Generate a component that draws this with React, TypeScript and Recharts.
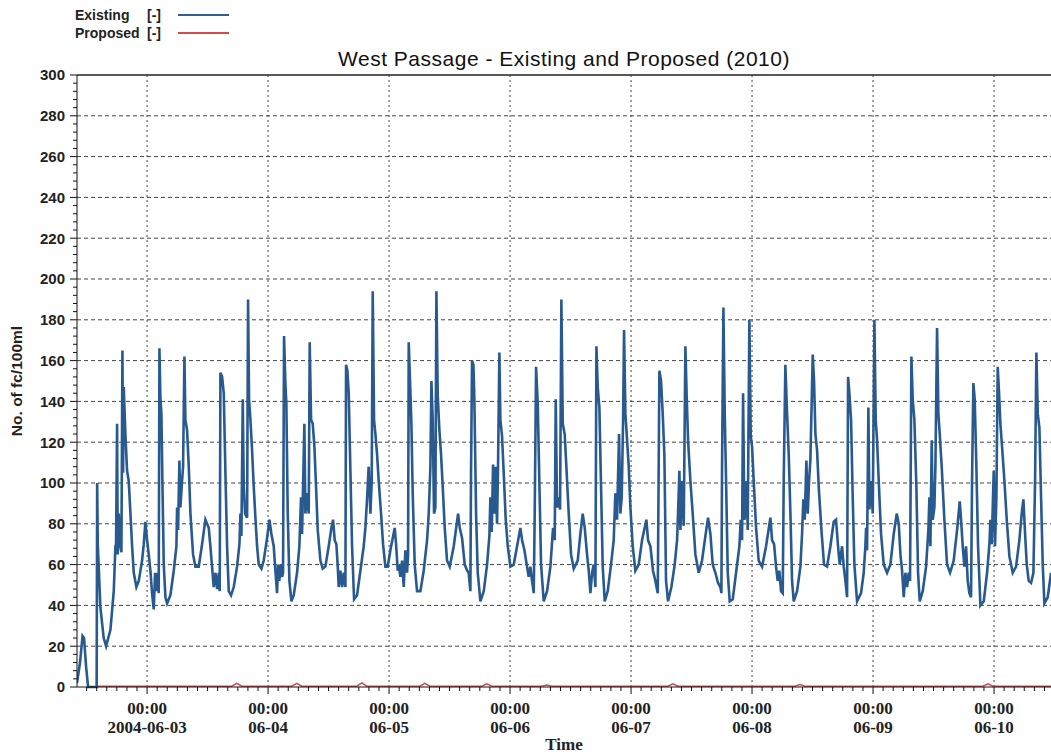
import React from 'react'
import { LineChart, Line, XAxis, YAxis, ReferenceLine } from 'recharts'

// time is in hours from 2004-06-03 00:00
const existingA = [
  [-13.9, 2], [-13.3, 12], [-12.8, 25], [-12.5, 24], [-12.1, 10], [-11.7, 0], [-10.0, 0], [-9.9, 100], [-9.78, 70],
  [-9.59, 59], [-9.26, 39], [-8.6, 24], [-8.13, 20], [-7.27, 28], [-6.61, 47], [-6.28, 69], [-6.15, 70], [-5.95, 129],
  [-5.82, 65], [-5.62, 85], [-5.29, 69], [-5.09, 66], [-4.89, 165], [-4.76, 105], [-4.63, 147], [-4.3, 124], [-3.97, 106],
  [-3.64, 101], [-3.3, 85], [-2.97, 69], [-2.64, 56], [-2.12, 49], [-1.65, 52], [-0.99, 62], [-0.66, 70], [-0.33, 81],
  [0, 72], [0.33, 65], [0.66, 57], [0.99, 46], [1.32, 38], [1.59, 56], [1.85, 47], [2.12, 56], [2.31, 46], [2.45, 166],
  [2.64, 142], [2.84, 134], [3.04, 101], [3.31, 60], [3.64, 44], [3.97, 41], [4.63, 45], [5.29, 57], [5.82, 69], [5.95, 88],
  [6.15, 77], [6.41, 111], [6.61, 88], [6.94, 101], [7.14, 108], [7.41, 162], [7.6, 131], [7.93, 126], [8.27, 108],
  [8.6, 85], [9.12, 65], [9.59, 59], [10.25, 59], [10.91, 70], [11.57, 82], [12.23, 78], [12.56, 69], [12.89, 59],
  [13.22, 49], [13.56, 56], [13.89, 48], [14.22, 56], [14.41, 47], [14.55, 154], [14.88, 152], [15.21, 144], [15.54, 105],
  [15.87, 69], [16.2, 47], [16.66, 45], [17.19, 49], [17.85, 59], [18.32, 70], [18.52, 85], [18.71, 74], [18.98, 141],
  [19.18, 98], [19.44, 85], [19.84, 83], [20.03, 190], [20.23, 141], [20.5, 131], [20.83, 116], [21.16, 98], [21.49, 83],
  [21.82, 69], [22.15, 60], [22.68, 58], [23.14, 62], [23.8, 73], [24.27, 82], [24.66, 75],
]

const existingB = [
  [25.12, 69], [25.45, 57], [25.78, 46], [25.98, 60], [26.24, 52], [26.44, 60], [26.77, 54], [26.97, 56], [27.17, 172],
  [27.43, 149], [27.63, 139], [27.9, 85], [28.23, 52], [28.63, 42], [29.09, 45], [29.75, 56], [30.21, 69], [30.54, 93],
  [30.74, 75], [30.94, 98], [31.2, 129], [31.4, 85], [31.73, 95], [32.06, 85], [32.26, 169], [32.53, 131], [32.86, 129],
  [33.19, 118], [33.52, 98], [33.85, 77], [34.38, 62], [34.84, 58], [35.37, 59], [36.03, 69], [36.56, 78], [36.89, 82],
  [37.22, 72], [37.55, 70], [37.82, 59], [38.01, 49], [38.34, 57], [38.68, 49], [39.01, 56], [39.34, 49], [39.47, 158],
  [39.73, 155], [40.0, 144], [40.33, 106], [40.66, 69], [41.06, 43], [41.65, 45], [42.31, 57], [42.97, 69], [43.3, 78],
  [43.63, 92], [43.96, 108], [44.3, 85], [44.56, 101], [44.76, 194], [45.02, 131], [45.29, 124], [45.62, 114], [45.95, 101],
  [46.41, 85], [46.81, 70], [47.27, 59], [47.73, 59], [48.26, 67], [49.12, 78], [49.39, 70], [49.72, 57], [49.92, 60],
  [50.25, 54], [50.58, 62], [50.91, 49], [51.24, 67], [51.57, 56], [51.77, 65], [51.9, 169], [52.17, 149], [52.43, 129],
  [52.69, 95], [53.09, 60], [53.55, 47], [54.21, 47], [54.87, 57], [55.54, 72], [55.87, 85], [56.2, 108], [56.4, 150],
  [56.66, 131], [56.92, 85], [57.19, 88], [57.39, 194], [57.65, 143], [57.98, 126], [58.31, 114], [58.65, 98], [59.04, 78],
  [59.5, 62], [60.03, 59], [60.83, 69], [61.69, 85], [62.02, 78], [62.48, 73], [63.01, 60],
]

const existingC = [
  [63.5, 57], [63.8, 56], [64.13, 47], [64.26, 105], [64.46, 160], [64.73, 158], [64.92, 141], [65.26, 85], [65.59, 56],
  [66.12, 42], [66.78, 47], [67.44, 60], [67.9, 74], [68.1, 93], [68.36, 76], [68.63, 109], [68.89, 85], [69.09, 108],
  [69.42, 80], [69.62, 109], [69.88, 164], [70.08, 131], [70.41, 123], [70.74, 105], [71.14, 82], [71.54, 69], [72.07, 59],
  [72.73, 60], [73.39, 69], [74.05, 78], [74.38, 72], [74.85, 67], [75.37, 59], [75.7, 54], [76.03, 59], [76.36, 52],
  [76.7, 46], [76.89, 85], [77.16, 157], [77.49, 139], [77.75, 108], [78.15, 60], [78.68, 42], [79.34, 47], [80.0, 59],
  [80.53, 78], [80.86, 72], [81.06, 141], [81.32, 88], [81.65, 93], [81.92, 87], [82.18, 190], [82.45, 129], [82.84, 124],
  [83.17, 108], [83.64, 85], [84.1, 65], [84.63, 58], [85.42, 62], [85.95, 75], [86.41, 85], [86.81, 78], [87.27, 65],
  [87.6, 57], [87.94, 46], [88.27, 56], [88.6, 60], [88.93, 49], [89.13, 167], [89.39, 147], [89.72, 137], [90.05, 98],
  [90.38, 59], [90.78, 42], [91.37, 47], [92.03, 60], [92.56, 72], [92.89, 95], [93.22, 82], [93.62, 124], [93.88, 85],
  [94.15, 93], [94.42, 131], [94.61, 175], [94.88, 134], [95.21, 121], [95.54, 108], [95.87, 88], [96.33, 69], [96.86, 57],
  [97.52, 60], [98.18, 72], [99.04, 82], [99.37, 72], [99.84, 69], [100.36, 57], [100.83, 52], [101.3, 46], [101.62, 155],
  [101.95, 150], [102.28, 134],
]

const existingD = [
  [102.61, 114], [102.94, 52], [103.34, 42], [104.0, 49], [104.66, 60], [105.13, 72], [105.32, 85], [105.59, 106],
  [105.79, 77], [106.12, 101], [106.45, 79], [106.78, 167], [107.04, 142], [107.31, 121], [107.77, 101], [108.23, 85],
  [108.76, 65], [109.42, 56], [110.08, 62], [110.75, 74], [111.27, 83], [111.74, 75], [112.2, 60], [112.73, 56],
  [113.26, 51], [113.72, 49], [113.92, 46], [114.05, 108], [114.32, 186], [114.58, 134], [114.85, 101], [115.18, 56],
  [115.57, 42], [116.17, 43], [116.83, 56], [117.49, 69], [117.75, 82], [118.02, 72], [118.22, 144], [118.48, 82],
  [118.68, 85], [118.94, 101], [119.14, 77], [119.47, 180], [119.74, 123], [120.0, 118], [120.33, 101], [120.8, 78],
  [121.32, 62], [121.99, 59], [122.78, 69], [123.64, 83], [123.97, 72], [124.37, 70], [124.76, 59], [125.09, 52],
  [125.42, 57], [125.75, 47], [126.09, 46], [126.28, 101], [126.61, 158], [126.95, 134], [127.28, 114], [127.61, 85],
  [127.94, 52], [128.27, 42], [128.93, 47], [129.59, 59], [129.92, 75], [130.18, 92], [130.45, 82], [130.78, 111],
  [131.05, 85], [131.31, 101], [131.57, 111], [132.04, 163], [132.3, 150], [132.57, 124], [132.9, 116], [133.23, 98],
  [133.76, 77], [134.28, 60], [134.88, 59], [135.54, 69], [136.2, 81], [136.66, 82], [137.06, 69], [137.39, 60],
  [137.85, 69], [138.19, 59], [138.52, 52], [138.85, 44], [139.05, 152], [139.31, 144], [139.64, 131], [139.97, 93],
  [140.3, 60], [140.83, 42],
]

const existingE = [
  [141.62, 46], [142.15, 56], [142.48, 69], [142.62, 78], [142.81, 67], [143.08, 137], [143.28, 87], [143.61, 101],
  [143.94, 85], [144.27, 180], [144.53, 131], [144.8, 121], [145.13, 101], [145.59, 75], [146.12, 60], [146.78, 56],
  [147.44, 60], [148.1, 75], [148.7, 85], [149.1, 80], [149.43, 65], [149.76, 57], [150.09, 44], [150.42, 56],
  [150.75, 49], [151.08, 56], [151.34, 52], [151.61, 162], [151.87, 141], [152.2, 131], [152.6, 98], [152.93, 56],
  [153.26, 42], [153.86, 47], [154.52, 59], [154.98, 77], [155.18, 93], [155.38, 69], [155.64, 121], [155.84, 82],
  [156.17, 88], [156.37, 108], [156.7, 176], [156.96, 134], [157.23, 124], [157.62, 108], [158.15, 82], [158.68, 60],
  [159.28, 56], [160.0, 62], [160.67, 77], [161.2, 91], [161.46, 82], [161.79, 69], [162.12, 59], [162.45, 69],
  [162.78, 52], [163.11, 46], [163.44, 44], [163.64, 101], [163.9, 149], [164.17, 141], [164.5, 108], [164.83, 69],
  [165.3, 40], [165.96, 42], [166.62, 56], [167.08, 70], [167.28, 82], [167.54, 70], [167.94, 106], [168.2, 69],
  [168.47, 93], [168.73, 157], [169.0, 144], [169.26, 129], [169.59, 118], [170.06, 101], [170.52, 82], [171.05, 64],
  [171.71, 56], [172.37, 59], [173.03, 72], [173.49, 85], [173.82, 92], [174.16, 75], [174.49, 60], [174.88, 52],
  [175.35, 51], [175.81, 56], [176.14, 101], [176.4, 164], [176.67, 134], [177.0, 127], [177.33, 93], [177.66, 60],
  [177.99, 41], [178.65, 44], [179.31, 56],
]

const proposed = [
  [-9.9, 0.4], [16.8, 0.4], [17.8, 1.8], [18.8, 0.4], [28.7, 0.4], [29.7, 1.8], [30.7, 0.4], [41.6, 0.4], [42.6, 2],
  [43.6, 0.4], [54.1, 0.4], [55.1, 1.8], [56.1, 0.4], [66.4, 0.4], [67.4, 1.6], [68.4, 0.4], [78.3, 0.4], [79.3, 1],
  [80.3, 0.4], [103.3, 0.4], [104.3, 1.6], [105.3, 0.4], [128.5, 0.4], [129.5, 1.2], [130.5, 0.4], [165.8, 0.4],
  [166.8, 1.6], [167.8, 0.4], [179.3, 0.4],
]

const dayLabels = ['2004-06-03', '06-04', '06-05', '06-06', '06-07', '06-08', '06-09', '06-10']
const dayHours = [0, 24, 48, 72, 96, 120, 144, 168]
const yGrid = [20, 40, 60, 80, 100, 120, 140, 160, 180, 200, 220, 240, 260, 280]

const existingData = [...existingA, ...existingB, ...existingC, ...existingD, ...existingE].map(([h, v]) => ({ h, v }))
const proposedData = proposed.map(([h, v]) => ({ h, v }))

const xTicks = Array.from({ length: 96 }, (_, i) => -12 + i * 2)
const yTicks = Array.from({ length: 76 }, (_, i) => i * 4)

const XTick = (props: any) => {
  const { x, y, payload } = props
  const v = payload.value
  const major = v % 24 === 0
  const day = dayHours.indexOf(v)
  return (
    <g>
      <line x1={x} x2={x} y1={y} y2={y + (major ? 7 : 4)} stroke="#111" strokeWidth={1} />
      {major && day >= 0 && (
        <g fontFamily="'Liberation Serif', serif" fontWeight="bold" fontSize={17} fill="#222" textAnchor="middle">
          <text x={x} y={y + 27}>00:00</text>
          <text x={x} y={y + 46}>{dayLabels[day]}</text>
        </g>
      )}
    </g>
  )
}

const YTick = (props: any) => {
  const { x, y, payload } = props
  const v = payload.value
  const major = v % 20 === 0
  return (
    <g>
      <line x1={x} x2={x - (major ? 7 : 4)} y1={y} y2={y} stroke="#111" strokeWidth={1} />
      {major && (
        <text x={x - 12} y={y} dy="0.36em" textAnchor="end" fontFamily="'Liberation Sans', Arial, sans-serif"
          fontWeight="bold" fontSize={15} fill="#222">{v}</text>
      )}
    </g>
  )
}

export default function App() {
  return (
    <div style={{ position: 'absolute', left: 0, top: 0, width: 1051, height: 754, background: '#fff', overflow: 'hidden' }}>
      <div style={{ position: 'absolute', left: 75, top: 6, font: "bold 14px 'Liberation Sans', Arial, sans-serif", color: '#222', lineHeight: '18px' }}>
        <div style={{ display: 'flex', alignItems: 'center' }}>
          <span style={{ width: 72 }}>Existing</span><span style={{ width: 31 }}>[-]</span>
          <span style={{ width: 51, height: 2, background: '#2f5f95', display: 'inline-block' }} />
        </div>
        <div style={{ display: 'flex', alignItems: 'center' }}>
          <span style={{ width: 72 }}>Proposed</span><span style={{ width: 31 }}>[-]</span>
          <span style={{ width: 51, height: 2, background: '#d24a4a', display: 'inline-block' }} />
        </div>
      </div>
      <div style={{ position: 'absolute', left: 564, top: 47, transform: 'translateX(-50%)', whiteSpace: 'nowrap', font: "21px 'Liberation Sans', Arial, sans-serif", letterSpacing: 0.5, color: '#111' }}>
        West Passage - Existing and Proposed (2010)
      </div>
      <div style={{ position: 'absolute', left: 17, top: 381, transform: 'translate(-50%, -50%) rotate(-90deg)', whiteSpace: 'nowrap', font: "bold 15.5px 'Liberation Sans', Arial, sans-serif", color: '#222' }}>
        No. of fc/100ml
      </div>
      <div style={{ position: 'absolute', left: 564, top: 735, transform: 'translateX(-50%)', whiteSpace: 'nowrap', font: "bold 17px 'Liberation Serif', serif", color: '#222' }}>
        Time
      </div>
      <LineChart width={1051} height={754} margin={{ top: 75, right: 0, bottom: 0, left: 0 }}>
        <XAxis dataKey="h" type="number" domain={[-13.9, 179.3]} allowDataOverflow ticks={xTicks} interval={0}
          height={67} tickSize={0} tickMargin={0} tickLine={false} axisLine={{ stroke: '#111' }} tick={<XTick />} />
        <YAxis type="number" domain={[0, 300]} ticks={yTicks} interval={0} width={77} tickSize={0} tickMargin={0}
          tickLine={false} axisLine={{ stroke: '#111' }} tick={<YTick />} />
        {yGrid.map((v) => (
          <ReferenceLine key={'y' + v} y={v} stroke="#444" strokeDasharray="4 3" />
        ))}
        {dayHours.map((v) => (
          <ReferenceLine key={'x' + v} x={v} stroke="#444" strokeDasharray="2 3" />
        ))}
        <ReferenceLine y={300} stroke="#222" strokeWidth={1.5} />
        <Line data={existingData} dataKey="v" type="linear" stroke="#28598f" strokeWidth={2.6} dot={false} isAnimationActive={false} />
        <Line data={proposedData} dataKey="v" type="linear" stroke="#d24a4a" strokeWidth={1.5} dot={false} isAnimationActive={false} />
      </LineChart>
    </div>
  )
}
